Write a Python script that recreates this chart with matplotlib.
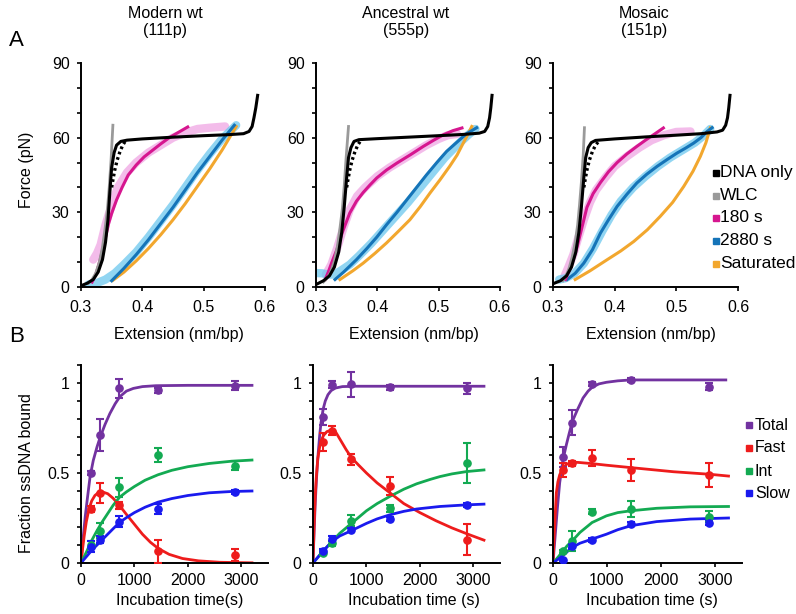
import matplotlib
matplotlib.use("Agg")
import matplotlib.pyplot as plt
from matplotlib.lines import Line2D
from matplotlib.ticker import MultipleLocator, FixedLocator, FuncFormatter

plt.rcParams['font.family'] = ['Liberation Sans', 'DejaVu Sans']

# ---------------- Panel A data (extension nm/bp, force pN) ----------------
titles = ["Modern wt\n(111p)", "Ancestral wt\n(555p)", "Mosaic\n(151p)"]

black1_x = [0.300, 0.310, 0.320, 0.328, 0.335, 0.340, 0.344, 0.347, 0.350, 0.354, 0.358, 0.365, 0.375, 0.40, 0.45, 0.50, 0.54, 0.565, 0.574, 0.579, 0.582, 0.585, 0.588]
black1_y = [0.5, 1.5, 3, 6, 11, 18, 27, 38, 48, 54, 57, 58.5, 59, 59.5, 60.2, 60.8, 61.2, 61.6, 62.5, 64.5, 68, 72, 77]
dot1_x = [0.350, 0.352, 0.355, 0.359, 0.363, 0.368, 0.372]
dot1_y = [40, 43, 47, 51, 54, 57, 58.5]
wlc1_x = [0.312, 0.318, 0.324, 0.330, 0.335, 0.339, 0.343, 0.346, 0.349, 0.352]
wlc1_y = [1.5, 3, 5.5, 10, 16, 23, 31, 40, 51, 65]
mag1_x = [0.318, 0.324, 0.329, 0.334, 0.340, 0.345, 0.350, 0.358, 0.367, 0.377, 0.390, 0.403, 0.417, 0.430, 0.444, 0.460, 0.474]
mag1_y = [2, 5, 9, 13.6, 20, 25.5, 29.6, 35, 40, 45, 49, 52.3, 55, 57.5, 60, 62.3, 64.3]
pink1_x = [0.320, 0.326, 0.332, 0.340, 0.350, 0.360, 0.375, 0.390, 0.410, 0.430, 0.450, 0.470, 0.490, 0.510, 0.535]
pink1_y = [11, 13.5, 17, 25, 33, 40, 46, 50, 54, 57, 60, 62, 63.5, 64, 64.5]
blue1_x = [0.350, 0.370, 0.390, 0.410, 0.430, 0.450, 0.470, 0.490, 0.510, 0.530, 0.550]
blue1_y = [2.5, 7.5, 13, 19, 25.5, 32, 39, 46, 52.5, 59, 65]
lblue1_x = [0.312, 0.325, 0.340, 0.355, 0.370, 0.390, 0.410, 0.430, 0.450, 0.470, 0.490, 0.510, 0.530, 0.553]
lblue1_y = [1, 1.5, 3, 5.5, 9, 14, 20, 26.5, 33, 40, 47, 53.5, 59.5, 65]
sat1_x = [0.352, 0.370, 0.390, 0.410, 0.430, 0.450, 0.470, 0.490, 0.510, 0.530, 0.553]
sat1_y = [2.7, 6, 10.5, 15.5, 21, 27, 33.5, 40.5, 47.5, 55, 64.5]

black2_x = [0.300, 0.312, 0.322, 0.330, 0.337, 0.342, 0.346, 0.350, 0.353, 0.357, 0.362, 0.370, 0.40, 0.45, 0.50, 0.54, 0.566, 0.575, 0.580, 0.583, 0.585, 0.587]
black2_y = [1, 2.5, 4.5, 8, 14, 22, 32, 44, 52, 56, 58.5, 59.2, 59.6, 60.2, 60.8, 61.3, 61.8, 62.5, 64.5, 68, 72, 77]
dot2_x = [0.350, 0.352, 0.355, 0.359, 0.363, 0.368, 0.372]
dot2_y = [40, 43, 47, 51, 54, 57, 58.5]
wlc2_x = [0.312, 0.318, 0.324, 0.330, 0.335, 0.339, 0.343, 0.346, 0.349, 0.353]
wlc2_y = [2, 3.5, 6, 10.5, 16.5, 23.5, 31.5, 40.5, 51.5, 64.5]
mag2_x = [0.315, 0.320, 0.326, 0.334, 0.343, 0.355, 0.366, 0.377, 0.388, 0.399, 0.415, 0.432, 0.455, 0.475, 0.492, 0.508, 0.523, 0.538]
mag2_y = [3, 6, 10, 15, 22, 29.7, 34.5, 38, 41, 43.8, 47, 49.8, 53.3, 56.5, 59, 61.2, 62.8, 63.9]
pink2_x = [0.316, 0.325, 0.335, 0.345, 0.355, 0.367, 0.380, 0.400, 0.420, 0.440, 0.460, 0.480, 0.500, 0.515, 0.530]
pink2_y = [5, 9, 16, 24, 31, 36.5, 40, 44.5, 48, 51, 54, 57, 59.5, 61, 61.5]
blue2_x = [0.331, 0.345, 0.366, 0.383, 0.399, 0.415, 0.432, 0.448, 0.464, 0.480, 0.497, 0.513, 0.529, 0.545, 0.562]
blue2_y = [3, 6, 11, 15.5, 20, 25, 30, 35, 40, 45, 50, 54.5, 58, 61.5, 64]
lblue2_x = [0.301, 0.310, 0.320, 0.330, 0.340, 0.355, 0.370, 0.390, 0.410, 0.430, 0.450, 0.470, 0.490, 0.510, 0.530, 0.550, 0.560]
lblue2_y = [5.6, 5.5, 5, 5, 6.5, 9, 12.5, 17.5, 23, 28.5, 34, 40, 46, 52, 57, 61.5, 63.5]
sat2_x = [0.339, 0.360, 0.377, 0.396, 0.415, 0.434, 0.453, 0.470, 0.486, 0.502, 0.518, 0.530, 0.540, 0.548, 0.554]
sat2_y = [3, 6.5, 9.6, 13.5, 17.7, 22.3, 27, 32.3, 37.8, 43, 48.5, 53, 57.8, 61.5, 64.5]

black3_x = [0.300, 0.312, 0.322, 0.330, 0.337, 0.342, 0.346, 0.350, 0.353, 0.357, 0.362, 0.369, 0.40, 0.45, 0.50, 0.54, 0.566, 0.575, 0.580, 0.583, 0.585, 0.587]
black3_y = [1.3, 2.5, 4.5, 8, 14, 22, 32, 44, 52, 56, 58, 58.9, 59.5, 60.3, 61, 61.6, 62.3, 63, 65, 68, 72, 77]
dot3_x = [0.350, 0.352, 0.355, 0.359, 0.364, 0.369, 0.374]
dot3_y = [40, 43, 47, 51, 54.5, 57, 58.5]
wlc3_x = [0.316, 0.321, 0.326, 0.331, 0.336, 0.340, 0.343, 0.346, 0.349, 0.351]
wlc3_y = [2.5, 4.5, 7.5, 12, 18, 25, 33, 42, 53, 64]
mag3_x = [0.320, 0.327, 0.333, 0.339, 0.346, 0.355, 0.365, 0.377, 0.390, 0.404, 0.420, 0.436, 0.450, 0.465, 0.479]
mag3_y = [3, 7, 11, 16, 23, 32, 37.5, 42, 46.3, 50, 53.5, 56.5, 59, 61.5, 63.9]
pink3_x = [0.318, 0.325, 0.333, 0.340, 0.350, 0.360, 0.370, 0.385, 0.400, 0.420, 0.440, 0.460, 0.480, 0.500, 0.523]
pink3_y = [4, 8, 13, 19, 27, 34, 39, 44, 48.5, 52.5, 56, 59, 61, 62.3, 62.5]
blue3_x = [0.323, 0.336, 0.350, 0.364, 0.377, 0.390, 0.404, 0.420, 0.436, 0.452, 0.469, 0.485, 0.501, 0.515, 0.528, 0.540, 0.550, 0.558]
blue3_y = [3, 5.5, 9.6, 15, 21.7, 27, 32.4, 37.3, 41.8, 45.3, 48.5, 51.2, 53.8, 55.8, 57.8, 60, 62.5, 64]
lblue3_x = [0.310, 0.320, 0.335, 0.350, 0.365, 0.380, 0.395, 0.410, 0.430, 0.450, 0.470, 0.490, 0.510, 0.530, 0.545, 0.555]
lblue3_y = [3, 3.5, 5.5, 9.5, 15.5, 22.5, 29, 34.5, 40, 44.5, 48.5, 52, 55, 58, 61, 63.5]
sat3_x = [0.336, 0.360, 0.388, 0.410, 0.431, 0.453, 0.474, 0.494, 0.512, 0.527, 0.539, 0.548, 0.555]
sat3_y = [3, 6.5, 11, 14.5, 18.3, 23, 28.4, 34, 40.4, 46.5, 52.5, 58, 63.9]

legendA_labels = ["DNA only", "WLC", "180 s", "2880 s", "Saturated"]

# ---------------- Panel B data (time s, fraction ssDNA bound) ----------------
times = [180, 360, 720, 1440, 2880]

total1 = [0.50, 0.71, 0.97, 0.96, 0.985]; total1_err = [0.01, 0.09, 0.055, 0.015, 0.025]
fast1 = [0.30, 0.39, 0.32, 0.065, 0.045]; fast1_err = [0.015, 0.055, 0.02, 0.065, 0.035]
int1 = [0.10, 0.18, 0.42, 0.60, 0.54]; int1_err = [0.02, 0.04, 0.055, 0.04, 0.025]
slow1 = [0.09, 0.13, 0.23, 0.30, 0.395]; slow1_err = [0.03, 0.02, 0.03, 0.03, 0.01]

total2 = [0.81, 0.99, 0.993, 0.976, 0.97]; total2_err = [0.045, 0.02, 0.07, 0.015, 0.03]
fast2 = [0.67, 0.736, 0.577, 0.43, 0.13]; fast2_err = [0.05, 0.025, 0.03, 0.05, 0.085]
int2 = [0.055, 0.11, 0.235, 0.305, 0.555]; int2_err = [0.01, 0.015, 0.03, 0.02, 0.11]
slow2 = [0.068, 0.135, 0.185, 0.244, 0.323]; slow2_err = [0.01, 0.015, 0.01, 0.01, 0.01]

total3 = [0.59, 0.78, 0.994, 1.018, 0.98]; total3_err = [0.055, 0.07, 0.01, 0.01, 0.02]
fast3 = [0.517, 0.553, 0.585, 0.517, 0.489]; fast3_err = [0.04, 0.015, 0.045, 0.06, 0.065]
int3 = [0.065, 0.124, 0.286, 0.299, 0.258]; int3_err = [0.01, 0.055, 0.015, 0.045, 0.03]
slow3 = [0.018, 0.096, 0.129, 0.216, 0.225]; slow3_err = [0.005, 0.01, 0.01, 0.01, 0.015]

# fitted curves
ftot1_t = [0, 40, 80, 120, 170, 230, 300, 360, 450, 540, 640, 730, 850, 980, 1150, 1400, 2000, 3200]
ftot1_v = [0, 0.14, 0.26, 0.36, 0.48, 0.57, 0.645, 0.70, 0.77, 0.83, 0.885, 0.925, 0.955, 0.97, 0.98, 0.985, 0.987, 0.987]
ffast1_t = [0, 30, 60, 100, 150, 200, 260, 330, 400, 500, 600, 720, 850, 1000, 1150, 1300, 1450, 1650, 1900, 2200, 2600, 3200]
ffast1_v = [0, 0.08, 0.15, 0.23, 0.30, 0.345, 0.375, 0.392, 0.395, 0.385, 0.36, 0.32, 0.27, 0.215, 0.16, 0.115, 0.08, 0.048, 0.025, 0.012, 0.004, 0.001]
fint1_t = [0, 100, 200, 300, 400, 500, 600, 720, 850, 1000, 1200, 1440, 1700, 2000, 2400, 2800, 3200]
fint1_v = [0, 0.06, 0.125, 0.18, 0.23, 0.275, 0.32, 0.365, 0.395, 0.425, 0.46, 0.49, 0.515, 0.535, 0.553, 0.565, 0.572]
fslow1_t = [0, 100, 200, 300, 400, 500, 600, 720, 850, 1000, 1200, 1440, 1700, 2000, 2400, 2800, 3200]
fslow1_v = [0, 0.035, 0.07, 0.10, 0.13, 0.16, 0.19, 0.225, 0.252, 0.28, 0.31, 0.338, 0.358, 0.375, 0.39, 0.397, 0.40]

ftot2_t = [0, 20, 40, 60, 80, 100, 125, 150, 190, 230, 280, 340, 420, 550, 800, 3200]
ftot2_v = [0, 0.17, 0.32, 0.44, 0.54, 0.62, 0.71, 0.78, 0.855, 0.90, 0.935, 0.958, 0.972, 0.98, 0.982, 0.982]
ffast2_t = [0, 20, 40, 60, 90, 125, 160, 200, 260, 340, 420, 520, 620, 720, 850, 1000, 1200, 1440, 1700, 2000, 2300, 2600, 2900, 3200]
ffast2_v = [0, 0.2, 0.36, 0.47, 0.58, 0.645, 0.685, 0.71, 0.73, 0.738, 0.73, 0.68, 0.63, 0.585, 0.545, 0.50, 0.445, 0.39, 0.33, 0.28, 0.235, 0.195, 0.16, 0.127]
fint2_t = [0, 100, 200, 360, 500, 720, 1000, 1200, 1440, 1700, 1940, 2200, 2375, 2600, 2875, 3200]
fint2_v = [0, 0.035, 0.07, 0.12, 0.165, 0.22, 0.29, 0.33, 0.37, 0.41, 0.44, 0.465, 0.48, 0.495, 0.508, 0.517]
fslow2_t = [0, 100, 200, 360, 500, 720, 1000, 1200, 1440, 1700, 1940, 2375, 2875, 3200]
fslow2_v = [0, 0.035, 0.07, 0.12, 0.15, 0.18, 0.22, 0.245, 0.268, 0.287, 0.30, 0.314, 0.323, 0.327]

ftot3_t = [0, 40, 80, 124, 186, 250, 300, 360, 450, 557, 650, 724, 850, 990, 1200, 1440, 2000, 3200]
ftot3_v = [0, 0.15, 0.30, 0.446, 0.576, 0.66, 0.72, 0.788, 0.85, 0.917, 0.955, 0.976, 0.995, 1.004, 1.012, 1.017, 1.017, 1.017]
ffast3_t = [0, 20, 40, 62, 90, 124, 186, 260, 359, 500, 724, 1000, 1440, 2230, 2900, 3250]
ffast3_v = [0, 0.14, 0.26, 0.39, 0.45, 0.49, 0.53, 0.55, 0.561, 0.558, 0.552, 0.543, 0.53, 0.507, 0.493, 0.483]
fint3_t = [0, 100, 180, 260, 359, 500, 724, 990, 1200, 1440, 1920, 2540, 3250]
fint3_v = [0, 0.035, 0.065, 0.095, 0.124, 0.17, 0.225, 0.262, 0.28, 0.29, 0.304, 0.312, 0.314]
fslow3_t = [0, 100, 180, 260, 359, 500, 724, 990, 1200, 1440, 1920, 2540, 3250]
fslow3_v = [0, 0.022, 0.04, 0.062, 0.087, 0.11, 0.133, 0.16, 0.185, 0.207, 0.23, 0.244, 0.25]

legendB_labels = ["Total", "Fast", "Int", "Slow"]

# ---------------- styling ----------------
C_BLACK, C_GRAY, C_MAG, C_BLUE, C_SAT = "#000000", "#9a9a9a", "#d6168f", "#1574b8", "#f2a72e"
C_PINK, C_LBLUE = "#f0a6e4", "#6cc8ee"
C_TOT, C_FAST, C_INT, C_SLOW = "#7232a0", "#ee1c1c", "#13aa52", "#1a1aee"

W, H = 796, 614
fig = plt.figure(figsize=(W / 100, H / 100), dpi=100)

def add_ax(l, r, t, b):
    return fig.add_axes([l / W, 1 - b / H, (r - l) / W, (b - t) / H])

def style(ax, xpad):
    for s in ("top", "right"):
        ax.spines[s].set_visible(False)
    for s in ("left", "bottom"):
        ax.spines[s].set_linewidth(1.4)
    ax.tick_params(which="both", direction="out", width=1.2, length=3.2, labelsize=11.5)
    ax.tick_params(axis="y", which="both", pad=5)
    ax.tick_params(axis="x", which="both", pad=xpad)

fmt_g = FuncFormatter(lambda v, p: "{:g}".format(round(v, 3)))

A_sets = [
    (black1_x, black1_y, dot1_x, dot1_y, wlc1_x, wlc1_y, mag1_x, mag1_y, pink1_x, pink1_y, blue1_x, blue1_y, lblue1_x, lblue1_y, sat1_x, sat1_y),
    (black2_x, black2_y, dot2_x, dot2_y, wlc2_x, wlc2_y, mag2_x, mag2_y, pink2_x, pink2_y, blue2_x, blue2_y, lblue2_x, lblue2_y, sat2_x, sat2_y),
    (black3_x, black3_y, dot3_x, dot3_y, wlc3_x, wlc3_y, mag3_x, mag3_y, pink3_x, pink3_y, blue3_x, blue3_y, lblue3_x, lblue3_y, sat3_x, sat3_y),
]
A_pos = [(81, 265), (316, 500), (553, 738)]
title_x = [165, 406, 644]
xlab_x = [179, 414, 651]

for i, (d, (l, r)) in enumerate(zip(A_sets, A_pos)):
    ax = add_ax(l, r, 63, 287)
    (bx, by, dx, dy, wx, wy, mx, my, px, py, ux, uy, lx, ly, sx, sy) = d
    ax.plot(px, py, color=C_PINK, lw=6, alpha=0.75, solid_capstyle="round", zorder=1)
    ax.plot(lx, ly, color=C_LBLUE, lw=6, alpha=0.75, solid_capstyle="round", zorder=1)
    ax.plot(sx, sy, color=C_SAT, lw=2.2, zorder=2)
    ax.plot(ux, uy, color=C_BLUE, lw=2.2, zorder=3)
    ax.plot(mx, my, color=C_MAG, lw=2.2, zorder=3)
    ax.plot(wx, wy, color=C_GRAY, lw=2.0, zorder=4)
    ax.plot(bx, by, color=C_BLACK, lw=2.2, zorder=5)
    ax.plot(dx, dy, color=C_BLACK, lw=2.4, linestyle=(0, (0.8, 0.9)), zorder=5)
    ax.set_xlim(0.3, 0.6)
    ax.set_ylim(0, 90)
    ax.xaxis.set_major_locator(FixedLocator([0.3, 0.4, 0.5, 0.6]))
    ax.xaxis.set_major_formatter(FuncFormatter(lambda v, p: "{:.1f}".format(v)))
    ax.yaxis.set_major_locator(MultipleLocator(30))
    ax.yaxis.set_minor_locator(MultipleLocator(10))
    ax.yaxis.set_major_formatter(fmt_g)
    style(ax, 6)
    fig.text(title_x[i] / W, 1 - 22 / H, titles[i], ha="center", va="center",
             fontsize=11.5, linespacing=1.25)
    fig.text(xlab_x[i] / W, 1 - 335 / H, "Extension (nm/bp)", ha="center", va="center", fontsize=11.5)

fig.text(27 / W, 1 - 170 / H, "Force (pN)", rotation=90, ha="center", va="center", fontsize=11.5)

B_sets = [
    [(total1, total1_err, ftot1_t, ftot1_v, C_TOT), (fast1, fast1_err, ffast1_t, ffast1_v, C_FAST),
     (int1, int1_err, fint1_t, fint1_v, C_INT), (slow1, slow1_err, fslow1_t, fslow1_v, C_SLOW)],
    [(total2, total2_err, ftot2_t, ftot2_v, C_TOT), (fast2, fast2_err, ffast2_t, ffast2_v, C_FAST),
     (int2, int2_err, fint2_t, fint2_v, C_INT), (slow2, slow2_err, fslow2_t, fslow2_v, C_SLOW)],
    [(total3, total3_err, ftot3_t, ftot3_v, C_TOT), (fast3, fast3_err, ffast3_t, ffast3_v, C_FAST),
     (int3, int3_err, fint3_t, fint3_v, C_INT), (slow3, slow3_err, fslow3_t, fslow3_v, C_SLOW)],
]
B_pos = [(81, 268), (313, 500), (553, 742)]
B_xlab = ["Incubation time(s)", "Incubation time (s)", "Incubation time (s)"]
B_xlab_x = [180, 414, 652]

for i, (sets, (l, r)) in enumerate(zip(B_sets, B_pos)):
    ax = add_ax(l, r, 365, 563)
    for (vals, errs, ft, fv, c) in sets:
        ax.plot(ft, fv, color=c, lw=2.0, zorder=2)
    for (vals, errs, ft, fv, c) in sets:
        ax.errorbar(times, vals, yerr=errs, fmt="o", color=c, ms=5.2, capsize=3,
                    elinewidth=1.5, capthick=1.5, zorder=3)
    ax.set_xlim(0, 3500)
    ax.set_ylim(0, 1.1)
    ax.xaxis.set_major_locator(FixedLocator([0, 1000, 2000, 3000]))
    ax.yaxis.set_major_locator(FixedLocator([0, 0.5, 1.0]))
    ax.yaxis.set_minor_locator(MultipleLocator(0.1))
    ax.yaxis.set_major_formatter(fmt_g)
    style(ax, 4)
    fig.text(B_xlab_x[i] / W, 1 - 601 / H, B_xlab[i], ha="center", va="center", fontsize=11.5)

fig.text(27 / W, 1 - 473 / H, "Fraction ssDNA bound", rotation=90, ha="center", va="center", fontsize=11.5)

fig.text(9 / W, 1 - 40 / H, "A", ha="left", va="center", fontsize=16)
fig.text(9 / W, 1 - 337 / H, "B", ha="left", va="center", fontsize=16)

# legends
legA_colors = [C_BLACK, C_GRAY, C_MAG, C_BLUE, C_SAT]
legA_y = [173, 196, 218, 241, 264]
for lab, c, y in zip(legendA_labels, legA_colors, legA_y):
    fig.add_artist(Line2D([716 / W], [1 - y / H], marker="s", ms=4.6, color=c, mec=c,
                          linestyle="none", transform=fig.transFigure))
    fig.text(720 / W, 1 - y / H, lab, ha="left", va="center", fontsize=12.5)

legB_colors = [C_TOT, C_FAST, C_INT, C_SLOW]
legB_y = [425, 448, 471, 493]
for lab, c, y in zip(legendB_labels, legB_colors, legB_y):
    fig.add_artist(Line2D([748.5 / W], [1 - y / H], marker="s", ms=4.2, color=c, mec=c,
                          linestyle="none", transform=fig.transFigure))
    fig.text(755 / W, 1 - y / H, lab, ha="left", va="center", fontsize=11.5)

fig.savefig("out.png", dpi=100)
